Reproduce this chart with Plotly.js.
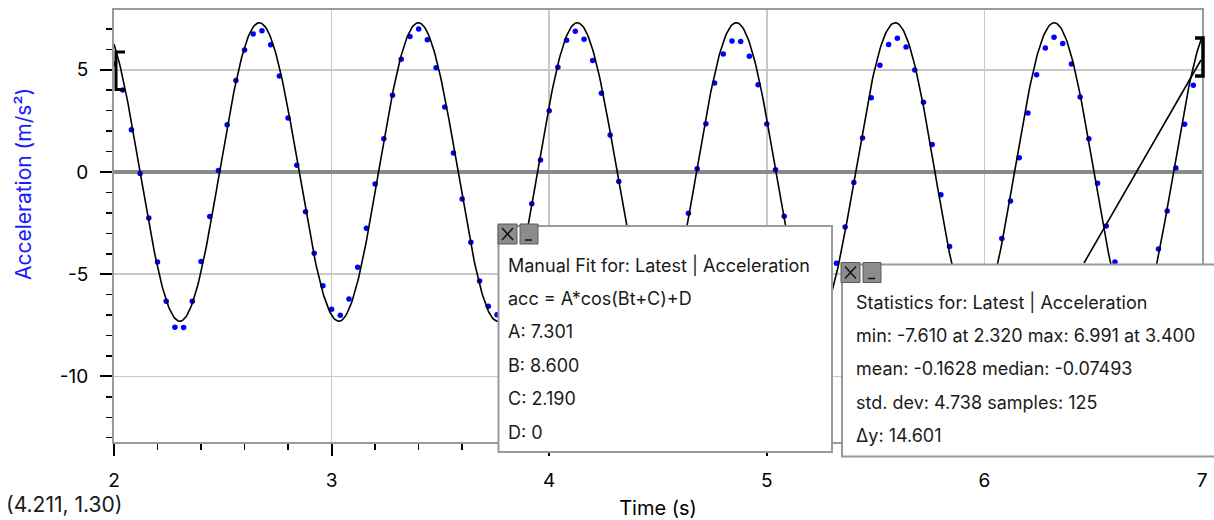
<!DOCTYPE html>
<html>
<head>
<meta charset="utf-8">
<script src="https://cdn.plot.ly/plotly-3.0.1.min.js"></script>
<style>
  html, body { margin: 0; padding: 0; background: #ffffff; }
  #chart { width: 1214px; height: 520px; }
</style>
</head>
<body>
<div id="chart"></div>
<script>
// ---- Data (125 samples, Latest | Acceleration) ----
const time = [
  2.00, 2.04, 2.08, 2.12, 2.16, 2.20, 2.24, 2.28, 2.32, 2.36,
  2.40, 2.44, 2.48, 2.52, 2.56, 2.60, 2.64, 2.68, 2.72, 2.76,
  2.80, 2.84, 2.88, 2.92, 2.96, 3.00, 3.04, 3.08, 3.12, 3.16,
  3.20, 3.24, 3.28, 3.32, 3.36, 3.40, 3.44, 3.48, 3.52, 3.56,
  3.60, 3.64, 3.68, 3.72, 3.76, 3.80, 3.84, 3.88, 3.92, 3.96,
  4.00, 4.04, 4.08, 4.12, 4.16, 4.20, 4.24, 4.28, 4.32, 4.36,
  4.40, 4.44, 4.48, 4.52, 4.56, 4.60, 4.64, 4.68, 4.72, 4.76,
  4.80, 4.84, 4.88, 4.92, 4.96, 5.00, 5.04, 5.08, 5.12, 5.16,
  5.20, 5.24, 5.28, 5.32, 5.36, 5.40, 5.44, 5.48, 5.52, 5.56,
  5.60, 5.64, 5.68, 5.72, 5.76, 5.80, 5.84, 5.88, 5.92, 5.96,
  6.00, 6.04, 6.08, 6.12, 6.16, 6.20, 6.24, 6.28, 6.32, 6.36,
  6.40, 6.44, 6.48, 6.52, 6.56, 6.60, 6.64, 6.68, 6.72, 6.76,
  6.80, 6.84, 6.88, 6.92, 6.96
];
const acceleration = [
  5.28, 4.01, 2.07, -0.07, -2.25, -4.40, -6.32, -7.60, -7.61, -6.32,
  -4.38, -2.18, 0.07, 2.31, 4.47, 5.97, 6.75, 6.91, 6.23, 4.69,
  2.64, 0.33, -1.94, -3.98, -5.57, -6.71, -7.01, -6.21, -4.66, -2.75,
  -0.59, 1.63, 3.75, 5.51, 6.63, 6.991, 6.47, 5.10, 3.18, 0.93,
  -1.32, -3.44, -5.33, -6.57, -6.99, -6.60, -5.50, -3.80, -1.55, 0.59,
  3.00, 5.13, 6.45, 6.88, 6.50, 5.46, 3.85, 1.81, -0.46, -2.80,
  -4.80, -6.20, -6.85, -6.80, -5.90, -4.30, -2.02, 0.16, 2.36, 4.35,
  5.77, 6.41, 6.39, 5.66, 4.27, 2.35, 0.11, -2.17, -4.30, -5.90,
  -6.70, -6.80, -6.20, -4.47, -2.69, -0.52, 1.66, 3.63, 5.22, 6.24,
  6.54, 6.11, 4.99, 3.41, 1.35, -1.11, -3.65, -5.40, -6.50, -6.75,
  -6.30, -5.00, -3.26, -1.42, 0.70, 2.89, 4.76, 6.06, 6.59, 6.29,
  5.28, 3.67, 1.63, -0.55, -2.64, -4.40, -6.00, -6.70, -6.70, -5.60,
  -3.77, -1.91, 0.20, 2.33, 4.24
];

// Manual fit parameters shown in the chart: acc = A*cos(Bt+C)+D
const fitA = 7.301;
const fitB = 8.600;
const fitC = 2.190;
const fitD = 0;

// Axis ticks
const xTickVals = [2, 3, 4, 5, 6, 7];
const xTickText = ["2", "3", "4", "5", "6", "7"];
const yTickVals = [5, 0, -5, -10];
const yTickText = ["5", "0", "-5", "-10"];

// Texts
const xTitle = "Time (s)";
const yTitle = "Acceleration (m/s\u00b2)";
const fitLines = [
  "Manual Fit for: Latest | Acceleration",
  "acc = A*cos(Bt+C)+D",
  "A: " + fitA.toFixed(3),
  "B: " + fitB.toFixed(3),
  "C: " + fitC.toFixed(3),
  "D: " + String(fitD)
];
const statLines = [
  "Statistics for: Latest | Acceleration",
  "min: -7.610 at 2.320 max: 6.991 at 3.400",
  "mean: -0.1628 median: -0.07493",
  "std. dev: 4.738 samples: 125",
  "\u0394y: 14.601"
];
const cursorText = "(4.211, 1.30)";

// ---- Fit curve evaluated from the displayed model parameters ----
const fitT = [], fitY = [];
for (let k = 0; k <= 1000; k++) {
  const t = 2 + k * 0.005;
  fitT.push(t);
  fitY.push(fitA * Math.cos(fitB * t + fitC) + fitD);
}

// ---- Layout helpers (pixel -> paper) ----
const W = 1214, H = 520, ML = 114, MR = 12, MT = 10, MB = 78;
const PW = W - ML - MR, PH = H - MT - MB;
const fx = p => (p - ML) / PW;
const fy = p => (H - MB - p) / PH;

const FONT = "Inter, 'Liberation Sans', Arial, sans-serif";

function rectP(x0, y0, x1, y1, fill, lc, lw) {
  return { type: 'rect', xref: 'paper', yref: 'paper', layer: 'above',
    x0: fx(x0), x1: fx(x1), y0: fy(y0), y1: fy(y1),
    fillcolor: fill, line: { color: lc, width: lw } };
}
function pathP(pts, lc, lw) {
  let d = '';
  pts.forEach((p, i) => { d += (i ? ' L ' : 'M ') + fx(p[0]) + ',' + fy(p[1]); });
  return { type: 'path', xref: 'paper', yref: 'paper', layer: 'above', path: d,
    line: { color: lc, width: lw } };
}
function closeButtons(x, y) {
  const s = [];
  s.push(rectP(x, y, x + 19, y + 20, '#8c8c8c', '#5a5a5a', 1));
  s.push(pathP([[x + 4, y + 4], [x + 15, y + 16]], '#111', 1.5));
  s.push(pathP([[x + 15, y + 4], [x + 4, y + 16]], '#111', 1.5));
  s.push(rectP(x + 22, y, x + 40, y + 20, '#8c8c8c', '#5a5a5a', 1));
  s.push(pathP([[x + 27, y + 16], [x + 34, y + 16]], '#111', 1.5));
  return s;
}

const shapes = [];
// selection brackets and leader line
shapes.push(pathP([[125, 52], [116, 52], [116, 89.5], [125, 89.5]], '#000', 3));
shapes.push(pathP([[1195, 38], [1203, 38], [1203, 76], [1195, 76]], '#000', 3.5));
shapes.push(pathP([[1084, 263], [1201, 60]], '#000', 1.6));
// Manual fit dialog
shapes.push(rectP(498.5, 226, 832, 452, '#ffffff', '#9a9a9a', 2));
closeButtons(498, 224).forEach(s => shapes.push(s));
// Statistics dialog
shapes.push(rectP(842, 264.5, 1222, 456.5, '#ffffff', '#9a9a9a', 2));
closeButtons(841, 262.5).forEach(s => shapes.push(s));

const annotations = [];
const fitY0 = 264.5, statY0 = 301.5, lineGap = 33.6;
fitLines.forEach((txt, i) => annotations.push({
  xref: 'paper', yref: 'paper', x: fx(506), y: fy(fitY0 + i * lineGap),
  xanchor: 'left', yanchor: 'middle', showarrow: false, text: txt,
  font: { family: FONT, size: 18, color: '#1a1a1a' }
}));
statLines.forEach((txt, i) => annotations.push({
  xref: 'paper', yref: 'paper', x: fx(854), y: fy(statY0 + i * lineGap),
  xanchor: 'left', yanchor: 'middle', showarrow: false, text: txt,
  font: { family: FONT, size: 18, color: '#1a1a1a' }
}));
annotations.push({
  xref: 'paper', yref: 'paper', x: fx(4), y: fy(504),
  xanchor: 'left', yanchor: 'middle', showarrow: false, text: cursorText,
  font: { family: FONT, size: 21, color: '#1a1a1a' }
});
// y axis title (placed like the reference, above the plot centre)
annotations.push({
  xref: 'paper', yref: 'paper', x: fx(23), y: fy(184),
  xanchor: 'center', yanchor: 'middle', showarrow: false, textangle: -90,
  text: yTitle, font: { family: FONT, size: 21, color: '#1a1aff' }
});

const traces = [
  {
    x: time, y: acceleration, type: 'scatter', mode: 'markers', name: 'Acceleration',
    marker: { color: '#0000ff', size: 5.5 }, cliponaxis: true
  },
  {
    x: fitT, y: fitY, type: 'scatter', mode: 'lines', name: 'Manual Fit',
    line: { color: '#000000', width: 1.6 }
  }
];

const layout = {
  width: W, height: H,
  margin: { l: ML, r: MR, t: MT, b: MB, pad: 0 },
  paper_bgcolor: '#ffffff', plot_bgcolor: '#ffffff',
  showlegend: false, hovermode: false,
  font: { family: FONT, size: 19, color: '#000000' },
  xaxis: {
    range: [2, 7], tickmode: 'array', tickvals: xTickVals, ticktext: xTickText,
    ticks: 'outside', ticklen: 12, tickwidth: 2, tickcolor: '#000',
    minor: { tickmode: 'linear', tick0: 2, dtick: 0.2, ticks: 'outside', ticklen: 6, tickwidth: 1.5, tickcolor: '#000', showgrid: false },
    showgrid: true, gridcolor: '#c8c8c8', gridwidth: 1.6,
    showline: true, linecolor: '#9a9a9a', linewidth: 2, mirror: true,
    zeroline: false, ticklabelstandoff: 8,
    tickfont: { family: FONT, size: 19, color: '#000' },
    title: { text: xTitle, font: { family: FONT, size: 20, color: '#000' }, standoff: 10 },
    fixedrange: true
  },
  yaxis: {
    range: [-13.21, 7.925], tickmode: 'array', tickvals: yTickVals, ticktext: yTickText,
    ticks: 'outside', ticklen: 12, tickwidth: 2, tickcolor: '#000',
    minor: { tickmode: 'linear', tick0: 0, dtick: 1, ticks: 'outside', ticklen: 6, tickwidth: 1.5, tickcolor: '#000', showgrid: false },
    showgrid: true, gridcolor: '#c8c8c8', gridwidth: 1.6,
    showline: true, linecolor: '#9a9a9a', linewidth: 2, mirror: true,
    zeroline: true, zerolinecolor: '#8a8a8a', zerolinewidth: 3.5,
    ticklabelstandoff: 8,
    tickfont: { family: FONT, size: 19, color: '#000' },
    fixedrange: true
  },
  shapes: shapes,
  annotations: annotations
};

Plotly.newPlot('chart', traces, layout, { displayModeBar: false, staticPlot: true });
</script>
</body>
</html>
